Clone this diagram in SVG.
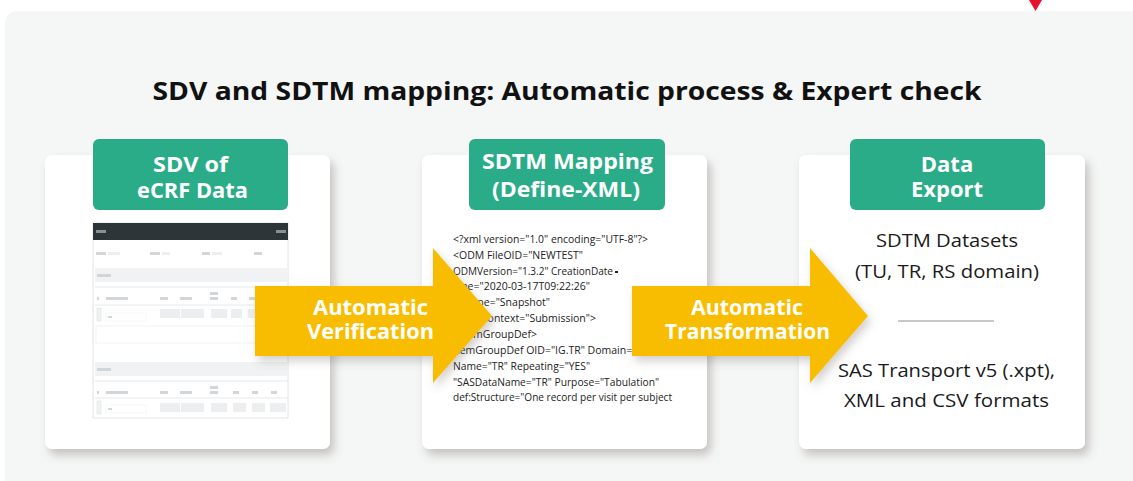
<svg xmlns="http://www.w3.org/2000/svg" width="1133" height="481" viewBox="0 0 1133 481">
<defs>
<filter id="sh" x="-20%" y="-20%" width="140%" height="140%">
<feDropShadow dx="4" dy="6" stdDeviation="5" flood-color="#6b625a" flood-opacity="0.35"/>
</filter>
<filter id="sh2" x="-20%" y="-20%" width="140%" height="140%">
<feDropShadow dx="3" dy="5" stdDeviation="5" flood-color="#6b625a" flood-opacity="0.3"/>
</filter>
<filter id="soft" x="-5%" y="-5%" width="110%" height="110%">
<feGaussianBlur stdDeviation="0.6"/>
</filter>
<style>
.card{fill:#ffffff;filter:url(#sh)}
.hdr{fill:#2aac88}
.hdrt{font-family:"Open Sans","Noto Sans",sans-serif;font-weight:700;font-size:22px;fill:#ffffff;text-anchor:middle}
.arr{fill:#f8bd00;filter:url(#sh2)}
.arrt{font-family:"Open Sans","Noto Sans",sans-serif;font-weight:700;font-size:21px;fill:#ffffff;text-anchor:middle}
.code{font-family:"Open Sans","Noto Sans",sans-serif;font-size:10.5px;fill:#222222}
.out{font-family:"Open Sans","Noto Sans",sans-serif;font-size:18px;fill:#1a1a1a;text-anchor:middle}
.g1{fill:#d3d6d8}
.g2{fill:#eceeef}
.ln{stroke:#e6e8ea;stroke-width:1}
</style>
</defs>
<rect x="0" y="0" width="1133" height="481" fill="#ffffff"/>
<rect x="5" y="11" width="1140" height="480" rx="12" fill="#f5f6f6"/>
<polygon points="1029,0 1042,0 1035.5,11" fill="#e8112d"/>
<text x="567" y="100" text-anchor="middle" font-family="'Open Sans','Noto Sans',sans-serif" font-weight="700" font-size="25" fill="#111111" textLength="829" lengthAdjust="spacingAndGlyphs">SDV and SDTM mapping: Automatic process &amp; Expert check</text>

<g id="node-sdv">
<rect class="card" x="45" y="155" width="285" height="294" rx="7"/>
<rect class="hdr" x="93" y="139" width="195" height="71" rx="6"/>
<text class="hdrt" x="190.5" y="172" textLength="75" lengthAdjust="spacingAndGlyphs">SDV of</text>
<text class="hdrt" x="192.5" y="198" textLength="111" lengthAdjust="spacingAndGlyphs">eCRF Data</text>
<g id="ecrf-screenshot" filter="url(#soft)">
<rect x="93" y="223" width="195" height="195" fill="#ffffff" stroke="#e4e4e4" stroke-width="1"/>
<rect x="93" y="223" width="195" height="17" fill="#2f3438"/>
<rect x="96" y="230" width="10" height="3" fill="#8a8f93"/>
<rect x="276" y="230" width="10" height="3" fill="#8a8f93"/>
<rect x="96" y="252" width="10" height="3" class="g1"/><rect x="108" y="252" width="12" height="3" class="g2"/>
<rect x="150" y="252" width="10" height="3" class="g1"/><rect x="162" y="252" width="8" height="3" class="g2"/>
<rect x="202" y="252" width="8" height="3" class="g1"/><rect x="212" y="252" width="10" height="3" class="g2"/>
<rect x="254" y="252" width="8" height="3" class="g1"/>
<rect x="95" y="268" width="193" height="14" fill="#f1f2f3"/>
<rect x="97" y="274" width="14" height="3" class="g1"/>
<line class="ln" x1="95" y1="287" x2="288" y2="287"/>
<rect x="97" y="297" width="2" height="3" class="g1"/><rect x="106" y="297" width="22" height="3" class="g1"/>
<rect x="160" y="297" width="8" height="3" class="g1"/><rect x="180" y="297" width="12" height="3" class="g1"/>
<rect x="210" y="292" width="8" height="3" class="g1"/><rect x="210" y="297" width="8" height="3" class="g1"/>
<rect x="231" y="297" width="6" height="3" class="g1"/><rect x="249" y="297" width="6" height="3" class="g1"/>
<line class="ln" x1="95" y1="305" x2="288" y2="305"/>
<rect x="97" y="308" width="4" height="13" fill="#f0f1f2" stroke="#dcdcdc" stroke-width="0.5"/>
<rect x="106" y="313" width="40" height="8" fill="#ffffff" stroke="#eceeef" stroke-width="0.5"/>
<rect x="108" y="316" width="4" height="2" class="g1"/>
<rect x="160" y="309" width="20" height="9" class="g2"/><rect x="181" y="309" width="23" height="9" class="g2"/>
<rect x="211" y="309" width="16" height="9" class="g2"/><rect x="231" y="309" width="11" height="9" class="g2"/>
<rect x="248" y="309" width="11" height="9" class="g2"/>
<rect x="96" y="326" width="192" height="17" fill="#ffffff" stroke="#eceeef" stroke-width="0.7"/>
<rect x="95" y="362" width="193" height="14" fill="#f1f2f3"/>
<rect x="97" y="368" width="14" height="3" class="g1"/>
<line class="ln" x1="95" y1="381" x2="288" y2="381"/>
<rect x="97" y="391" width="2" height="3" class="g1"/><rect x="106" y="391" width="22" height="3" class="g1"/>
<rect x="160" y="391" width="8" height="3" class="g1"/><rect x="180" y="391" width="12" height="3" class="g1"/>
<rect x="210" y="386" width="8" height="3" class="g1"/><rect x="210" y="391" width="8" height="3" class="g1"/>
<rect x="233" y="391" width="6" height="3" class="g1"/><rect x="252" y="391" width="6" height="3" class="g1"/><rect x="271" y="391" width="6" height="3" class="g1"/>
<line class="ln" x1="95" y1="398" x2="288" y2="398"/>
<rect x="97" y="401" width="4" height="13" fill="#f0f1f2" stroke="#dcdcdc" stroke-width="0.5"/>
<rect x="106" y="405" width="40" height="8" fill="#ffffff" stroke="#eceeef" stroke-width="0.5"/>
<rect x="108" y="408" width="4" height="2" class="g1"/>
<rect x="160" y="403" width="20" height="9" class="g2"/><rect x="181" y="403" width="23" height="9" class="g2"/>
<rect x="211" y="403" width="16" height="9" class="g2"/><rect x="233" y="403" width="13" height="9" class="g2"/>
<rect x="252" y="403" width="13" height="9" class="g2"/><rect x="270" y="403" width="16" height="9" class="g2"/>
</g>
</g>

<g id="node-sdtm">
<rect class="card" x="422" y="155" width="285" height="294" rx="7"/>
<rect class="hdr" x="469" y="139" width="196" height="71" rx="6"/>
<text class="hdrt" x="567.5" y="169" textLength="171" lengthAdjust="spacingAndGlyphs">SDTM Mapping</text>
<text class="hdrt" x="566" y="197" textLength="148" lengthAdjust="spacingAndGlyphs">(Define-XML)</text>
<text class="code" x="453" y="243" textLength="195" lengthAdjust="spacingAndGlyphs">&lt;?xml version="1.0" encoding="UTF-8"?&gt;</text>
<text class="code" x="453" y="259" textLength="130" lengthAdjust="spacingAndGlyphs">&lt;ODM FileOID="NEWTEST"</text>
<text class="code" x="453" y="275" textLength="160" lengthAdjust="spacingAndGlyphs">ODMVersion="1.3.2" CreationDate</text>
<rect x="615" y="271" width="3" height="2" fill="#222222"/>
<text class="code" x="590" y="290" text-anchor="end">Time="2020-03-17T09:22:26"</text>
<text class="code" x="550" y="306" text-anchor="end">FileType="Snapshot"</text>
<text class="code" x="596" y="322" text-anchor="end">Context="Submission"&gt;</text>
<text class="code" x="537" y="338" text-anchor="end">&lt;ItemGroupDef&gt;</text>
<text class="code" x="453" y="354">ItemGroupDef OID="IG.TR" Domain="TR"</text>
<text class="code" x="453" y="370" textLength="137" lengthAdjust="spacingAndGlyphs">Name="TR" Repeating="YES"</text>
<text class="code" x="453" y="386" textLength="206" lengthAdjust="spacingAndGlyphs">"SASDataName="TR" Purpose="Tabulation"</text>
<text class="code" x="453" y="401" textLength="219" lengthAdjust="spacingAndGlyphs">def:Structure="One record per visit per subject</text>
</g>

<g id="node-export">
<rect class="card" x="799" y="155" width="286" height="294" rx="7"/>
<rect class="hdr" x="850" y="139" width="195" height="71" rx="6"/>
<text class="hdrt" x="947" y="172">Data</text>
<text class="hdrt" x="947" y="197">Export</text>
<text class="out" x="947" y="247" textLength="142" lengthAdjust="spacingAndGlyphs">SDTM Datasets</text>
<text class="out" x="947" y="278" textLength="184" lengthAdjust="spacingAndGlyphs">(TU, TR, RS domain)</text>
<line x1="898" y1="321" x2="994" y2="321" stroke="#c8c8c8" stroke-width="2"/>
<text class="out" x="946.5" y="377" textLength="217" lengthAdjust="spacingAndGlyphs">SAS Transport v5 (.xpt),</text>
<text class="out" x="946.5" y="407" textLength="205" lengthAdjust="spacingAndGlyphs">XML and CSV formats</text>
</g>

<g id="connectors">
<g id="arrow-verification">
<polygon class="arr" points="255,286 433,286 433,248 492,316 433,383 433,356 255,356"/>
<text class="arrt" x="370.5" y="315" textLength="115" lengthAdjust="spacingAndGlyphs">Automatic</text>
<text class="arrt" x="370.5" y="339" textLength="127" lengthAdjust="spacingAndGlyphs">Verification</text>
</g>
<g id="arrow-transformation">
<polygon class="arr" points="632,286 810,286 810,248 868,316 810,383 810,356 632,356"/>
<text class="arrt" x="747" y="315" textLength="112" lengthAdjust="spacingAndGlyphs">Automatic</text>
<text class="arrt" x="747.5" y="339" textLength="165" lengthAdjust="spacingAndGlyphs">Transformation</text>
</g>
</g>
</svg>
